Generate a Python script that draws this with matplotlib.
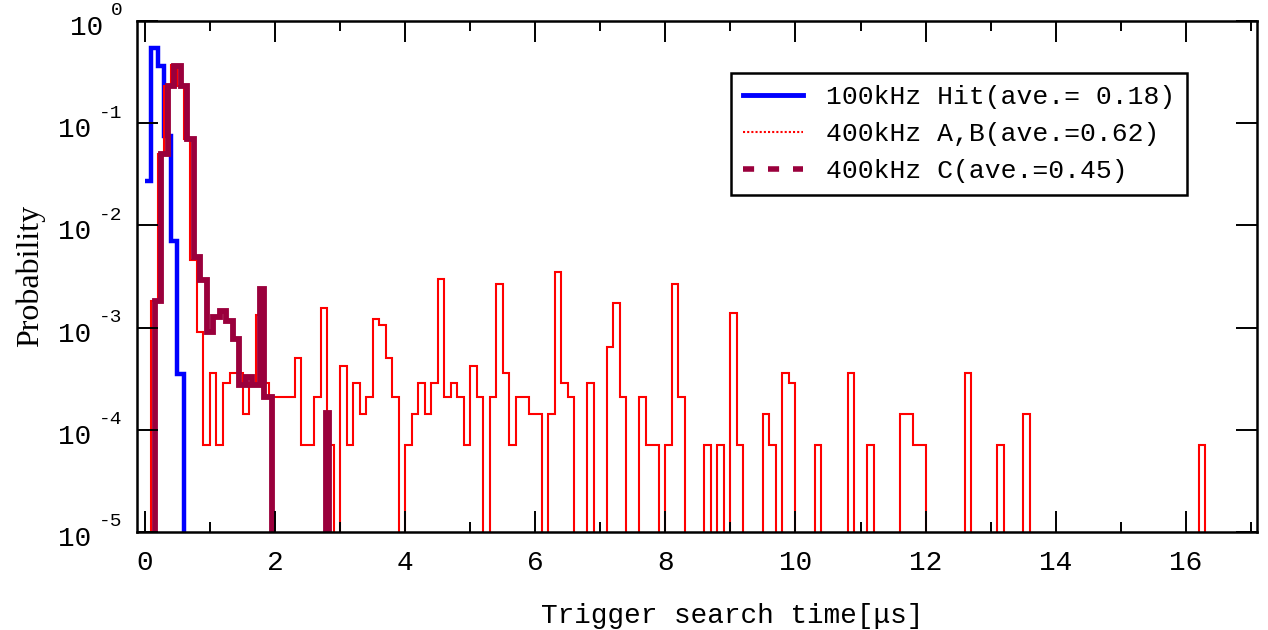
import numpy as np
import matplotlib
matplotlib.use('Agg')
import matplotlib.pyplot as plt
from matplotlib.lines import Line2D
from matplotlib.ticker import MultipleLocator, FixedLocator, NullLocator, NullFormatter

MONO = 'Liberation Mono'
SERIF = 'Liberation Serif'

# 100kHz hit: bin edges [us] and probability per bin
hit_edges = [0.0, 0.1, 0.2, 0.3, 0.4, 0.5, 0.6, 0.7]
hit_prob = [0.027, 0.55, 0.36, 0.075, 0.007, 3.5e-4, 0.0]

# 400kHz C: bin edges [us] and probability per bin
c_edges = [0.05, 0.15, 0.25, 0.35, 0.45, 0.55, 0.65, 0.75, 0.85, 0.95, 1.05,
           1.15, 1.25, 1.35, 1.45, 1.55, 1.65, 1.77, 1.83, 1.95, 2.78, 2.83, 2.9]
c_prob = [0.0, 1.8e-3, 0.05, 0.23, 0.36, 0.23, 0.07, 4.9e-3, 2.9e-3, 9.0e-4,
          1.28e-3, 1.46e-3, 1.15e-3, 7.7e-4, 2.75e-4, 3.3e-4, 2.75e-4, 2.4e-3,
          2.1e-4, 0.0, 1.45e-4, 0.0]

# 400kHz A,B: left edge [us] of every non-empty 0.1us bin and its probability
ab_left = [0.1, 0.2, 0.3, 0.4, 0.5, 0.6, 0.7, 0.8, 0.9, 1.0, 1.1, 1.2, 1.3, 1.4,
           1.5, 1.6, 1.7, 1.8, 1.9, 2.0, 2.1, 2.2, 2.3, 2.4, 2.5, 2.6, 2.7, 2.8,
           3.0, 3.1, 3.2, 3.3, 3.4, 3.5, 3.6, 3.7, 3.8, 4.0, 4.1, 4.2, 4.3, 4.4,
           4.5, 4.6, 4.7, 4.8, 4.9, 5.0, 5.1, 5.3, 5.4, 5.5, 5.6, 5.7, 5.8, 5.9,
           6.0, 6.2, 6.3, 6.4, 6.5, 6.8, 7.1, 7.2, 7.3, 7.6, 7.7, 7.8, 8.0, 8.1,
           8.2, 8.6, 8.8, 9.0, 9.1, 9.5, 9.6, 9.8, 9.9, 10.3, 10.8, 11.1, 11.6,
           11.7, 11.8, 11.9, 12.6, 13.1, 13.5, 16.2]
ab_prob = [1.8e-3, 0.05, 0.23, 0.37, 0.23, 0.07, 4.6e-3, 9.1e-4, 7.1e-5, 3.6e-4,
           7.1e-5, 2.9e-4, 3.6e-4, 3.6e-4, 1.43e-4, 2.85e-4, 1.33e-3, 2.85e-4,
           2.1e-4, 2.1e-4, 2.1e-4, 2.1e-4, 5.0e-4, 7.1e-5, 7.1e-5, 2.1e-4,
           1.55e-3, 7.1e-5, 4.2e-4, 7.1e-5, 2.85e-4, 1.43e-4, 2.1e-4, 1.2e-3,
           1.07e-3, 5.0e-4, 2.1e-4, 7.1e-5, 1.43e-4, 2.85e-4, 1.43e-4, 2.85e-4,
           2.97e-3, 2.1e-4, 2.85e-4, 2.1e-4, 7.1e-5, 4.2e-4, 2.1e-4, 2.1e-4,
           2.67e-3, 3.57e-4, 7.1e-5, 2.1e-4, 2.1e-4, 1.43e-4, 1.43e-4, 1.43e-4,
           3.5e-3, 2.85e-4, 2.1e-4, 2.85e-4, 6.4e-4, 1.73e-3, 2.1e-4, 2.1e-4,
           7.1e-5, 7.1e-5, 7.1e-5, 2.67e-3, 2.1e-4, 7.1e-5, 7.1e-5, 1.4e-3,
           7.1e-5, 1.43e-4, 7.1e-5, 3.57e-4, 2.85e-4, 7.1e-5, 3.57e-4, 7.1e-5,
           1.43e-4, 1.43e-4, 7.1e-5, 7.1e-5, 3.57e-4, 7.1e-5, 1.43e-4, 7.1e-5]

labels = ['100kHz Hit(ave.= 0.18)', '400kHz A,B(ave.=0.62)', '400kHz C(ave.=0.45)']
colors = ['#0000ff', '#ff0000', '#9a003c']

# fill the A,B histogram onto a regular 0.1us grid
bin_w = 0.1
n_bins = 165
ab_edges = np.round(np.arange(n_bins + 1) * bin_w, 2)
ab_full = np.zeros(n_bins)
ab_full[np.round(np.array(ab_left) / bin_w).astype(int)] = ab_prob

fig = plt.figure(figsize=(12.68, 6.30), dpi=100)
ax = fig.add_axes([0.1084, 0.1556, 0.8827, 0.8111])

ax.stairs(hit_prob, hit_edges, baseline=None, color=colors[0], lw=3.2)
ax.stairs(ab_full, ab_edges, baseline=None, color=colors[1], lw=1.5)
ax.stairs(c_prob, c_edges, baseline=None, color=colors[2], lw=4.2)

ax.set_yscale('log')
ax.set_xlim(-0.115, 17.09)
ax.set_ylim(1e-5, 1)

ax.xaxis.set_major_locator(MultipleLocator(2))
ax.xaxis.set_minor_locator(MultipleLocator(1))
decades = [0, -1, -2, -3, -4, -5]
ax.yaxis.set_major_locator(FixedLocator([10.0 ** d for d in decades]))
ax.yaxis.set_minor_locator(NullLocator())
ax.yaxis.set_major_formatter(NullFormatter())
ax.yaxis.set_minor_formatter(NullFormatter())

ax.tick_params(which='both', direction='in', top=True, right=True, width=1.4)
ax.tick_params(which='major', length=15)
ax.tick_params(which='minor', length=7.5)
ax.tick_params(axis='x', which='major', labelsize=20, pad=13)
for t in ax.get_xticklabels():
    t.set_family(MONO)
for s in ax.spines.values():
    s.set_linewidth(1.8)

# y tick labels as 10 with a raised exponent
exp_size = 14
exp_char = 0.6 * exp_size * 100 / 72
for d in decades:
    exp = '%d' % d
    ax.annotate(exp, xy=(0, 10.0 ** d), xycoords=('axes fraction', 'data'),
                xytext=(-15, 10), textcoords='offset pixels',
                ha='right', va='center', fontsize=exp_size, family=MONO)
    ax.annotate('10', xy=(0, 10.0 ** d), xycoords=('axes fraction', 'data'),
                xytext=(-15 - exp_char * len(exp) - 8, -7), textcoords='offset pixels',
                ha='right', va='center', fontsize=20, family=MONO)

ax.set_xlabel('Trigger search time[μs]', fontsize=20, family=MONO)
ax.xaxis.set_label_coords(0.531, -0.139)
fig.text(30 / 1268, 1 - 276 / 630, 'Probability', rotation=90, ha='center',
         va='center', fontsize=23, family=SERIF)

handles = [Line2D([], [], color=colors[0], lw=3.5, ls='-'),
           Line2D([], [], color=colors[1], lw=1.5, ls=(0, (1, 1))),
           Line2D([], [], color=colors[2], lw=4, ls=(0, (2, 2.5)))]
leg = ax.legend(handles, labels, loc='upper right', bbox_to_anchor=(0.9377, 0.898),
                borderaxespad=0, prop={'family': MONO, 'size': 19},
                handlelength=2.27, handletextpad=0.87, borderpad=0.45,
                labelspacing=0.49, fancybox=False, framealpha=1, edgecolor='black')
leg.get_frame().set_linewidth(1.8)

plt.savefig('out.png', dpi=100)
